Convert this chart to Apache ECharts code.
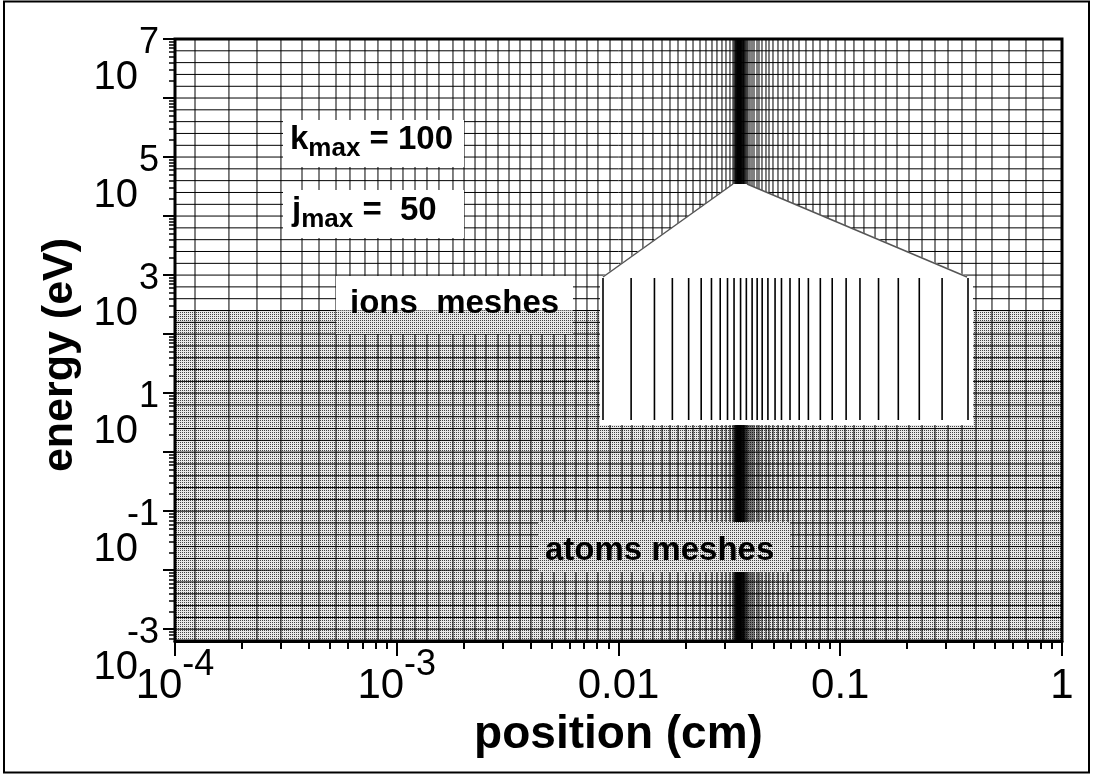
<!DOCTYPE html>
<html>
<head>
<meta charset="utf-8">
<script src="https://cdn.jsdelivr.net/npm/echarts@6/dist/echarts.min.js"></script>
<style>
  html, body { margin: 0; padding: 0; background: #fff; }
  #chart { width: 1093px; height: 776px; }
</style>
</head>
<body>
<div id="chart"></div>
<script>
// ---- mesh data ---------------------------------------------------------
// Ion-mesh cell boundaries along x (cm), outside the refined zone
const ionMeshX = [
  1.231e-4, 1.751e-4, 2.343e-4, 3.005e-4, 3.739e-4, 4.461e-4, 5.322e-4, 6.153e-4, 7.190e-4, 8.228e-4, 9.421e-4,
  1.067e-3, 1.209e-3, 1.369e-3, 1.550e-3, 1.793e-3, 2.011e-3, 2.254e-3, 2.526e-3, 2.862e-3, 3.208e-3,
  3.595e-3, 4.030e-3, 4.518e-3, 5.118e-3, 5.738e-3, 6.431e-3, 7.210e-3, 8.080e-3, 9.157e-3,
  1.037e-2, 1.150e-2, 1.289e-2, 1.430e-2, 1.571e-2, 1.707e-2, 1.855e-2, 2.016e-2, 2.168e-2, 2.331e-2,
  2.480e-2, 2.640e-2, 2.780e-2, 2.928e-2, 3.053e-2, 3.182e-2,
  3.837e-2, 3.917e-2, 4.000e-2, 4.084e-2, 4.213e-2, 4.301e-2, 4.437e-2, 4.625e-2, 4.772e-2, 4.974e-2,
  5.239e-2, 5.518e-2, 5.812e-2, 6.122e-2, 6.515e-2, 7.006e-2, 7.535e-2, 8.104e-2, 8.809e-2, 9.568e-2,
  0.1051, 0.1153, 0.1279, 0.1435, 0.1608, 0.1803, 0.2042, 0.2337, 0.2675, 0.3062, 0.3540, 0.4094,
  0.4833, 0.5768, 0.6881, 0.8211
];

// Refined cells around the sheath (also drawn magnified in the inset)
const refinedMeshX = [
  0.03283, 0.03320, 0.03351, 0.03375, 0.03397, 0.03414, 0.03428, 0.03440, 0.03450, 0.03459,
  0.03468, 0.03476, 0.03484, 0.03491, 0.03498, 0.03506, 0.03516, 0.03525, 0.03537, 0.03550,
  0.03563, 0.03580, 0.03597, 0.03617, 0.03637, 0.03664, 0.03693, 0.03724, 0.03758, 0.03797
];

// Energy mesh (eV), five cells per decade
const energyMesh = [
  1e7, 6.31e6, 3.98e6, 2.51e6, 1.58e6,
  1e6, 6.31e5, 3.98e5, 2.51e5, 1.58e5,
  1e5, 6.31e4, 3.98e4, 2.51e4, 1.58e4,
  1e4, 6310, 3980, 2510, 1580,
  1000, 631, 398, 251, 158,
  100, 63.1, 39.8, 25.1, 15.8,
  10, 6.31, 3.98, 2.51, 1.58,
  1, 0.631, 0.398, 0.251, 0.158,
  0.1, 0.0631, 0.0398, 0.0251, 0.0158,
  0.01, 6.31e-3, 3.98e-3, 2.51e-3, 1.58e-3,
  1e-3, 6.31e-4
];

// Energy range covered by the (much finer) atoms mesh, eV
const atomsEnergyRange = [6.31e-4, 251];

// ---- axes --------------------------------------------------------------
const xRange = [1e-4, 1];
const yRange = [6.31e-4, 1e7];
const xMajorTicks = [1e-4, 1e-3, 1e-2, 1e-1, 1];
const xTickLabels = [['10', '-4'], ['10', '-3'], ['0.01'], ['0.1'], ['1']];
const yMajorTicks = [1e-3, 1e-2, 1e-1, 1, 10, 100, 1e3, 1e4, 1e5, 1e6, 1e7];
const yLabelValues = [1e-3, 1e-1, 10, 1e3, 1e5, 1e7];
const yLabelExps = ['-3', '-1', '1', '3', '5', '7'];

// log-decade minor ticks (2..9 x 10^n) inside the energy range
const yMinorTicks = [];
for (let p = -4; p < 7; p++) {
  for (let m = 2; m <= 9; m++) {
    const v = m * Math.pow(10, p);
    if (v > yRange[0] && v < yRange[1]) yMinorTicks.push(v);
  }
}

const FONT = "'Liberation Sans', Arial, Helvetica, sans-serif";

function findIndex(list, v) {
  for (let i = 0; i < list.length; i++) {
    if (Math.abs(Math.log10(list[i]) - Math.log10(v)) < 1e-6) return i;
  }
  return -1;
}

// dithered grey used for the atoms-mesh area
function ditherPattern() {
  const c = document.createElement('canvas');
  c.width = 2; c.height = 2;
  const g = c.getContext('2d');
  g.fillStyle = '#e8e8e8';
  g.fillRect(0, 0, 2, 2);
  g.fillStyle = '#444';
  g.fillRect(0, 0, 1, 1);
  return c;
}
const grey = { image: ditherPattern(), repeat: 'repeat' };

// one full-height line per x value
function verticalMesh(params, api) {
  const cs = params.coordSys;
  const x = api.coord([api.value(0), yRange[1]])[0];
  return { type: 'line', shape: { x1: x, y1: cs.y, x2: x, y2: cs.y + cs.height },
           style: { stroke: '#000', lineWidth: 1 } };
}
// one full-width line per energy value
function horizontalMesh(params, api) {
  const cs = params.coordSys;
  const y = api.coord([xRange[0], api.value(1)])[1];
  return { type: 'line', shape: { x1: cs.x, y1: y, x2: cs.x + cs.width, y2: y },
           style: { stroke: '#000', lineWidth: 1 } };
}
function insetMesh(params, api) {
  const cs = params.coordSys;
  const x = api.coord([api.value(0), 0.5])[0];
  return { type: 'line', shape: { x1: x, y1: cs.y, x2: x, y2: cs.y + cs.height },
           style: { stroke: '#000', lineWidth: 1.6 } };
}

const chart = echarts.init(document.getElementById('chart'), null, { renderer: 'canvas' });

const option = {
  animation: false,
  backgroundColor: '#fff',
  grid: [
    { left: 175, top: 39, right: 31, bottom: 135 },
    { left: 603, top: 278, width: 365, height: 142 }
  ],
  xAxis: [
    {
      type: 'log', logBase: 10, gridIndex: 0, min: xRange[0], max: xRange[1],
      name: 'position (cm)', nameLocation: 'middle', nameGap: 70,
      nameTextStyle: { fontFamily: FONT, fontSize: 46, fontWeight: 'bold', color: '#000' },
      axisLine: { show: true, lineStyle: { color: '#000', width: 3 } },
      axisTick: { show: true, inside: false, length: 15, customValues: xMajorTicks,
                  lineStyle: { color: '#000', width: 2 } },
      minorTick: { show: true, splitNumber: 9, length: 8, lineStyle: { color: '#000', width: 2 } },
      splitLine: { show: false },
      minorSplitLine: { show: false },
      axisLabel: {
        customValues: xMajorTicks, margin: 2, color: '#000',
        formatter: function (v) {
          const i = findIndex(xMajorTicks, v);
          if (i < 0) return '';
          const lab = xTickLabels[i];
          return lab.length === 2 ? '{b|' + lab[0] + '}{e|' + lab[1] + '}' : '{n|' + lab[0] + '}';
        },
        rich: {
          b: { fontFamily: FONT, fontSize: 42, color: '#000', padding: [22, 0, 0, 0], verticalAlign: 'bottom' },
          n: { fontFamily: FONT, fontSize: 42, color: '#000', padding: [22, 0, 0, 0], verticalAlign: 'bottom' },
          e: { fontFamily: FONT, fontSize: 36, color: '#000', padding: [4, 0, 0, 0], verticalAlign: 'top' }
        }
      }
    },
    {
      type: 'log', logBase: 10, gridIndex: 1,
      min: refinedMeshX[0], max: refinedMeshX[refinedMeshX.length - 1], show: false
    }
  ],
  yAxis: [
    {
      type: 'log', logBase: 10, gridIndex: 0, min: yRange[0], max: yRange[1], position: 'left',
      name: 'energy (eV)', nameLocation: 'middle', nameGap: 93, nameRotate: 90,
      nameTextStyle: { fontFamily: FONT, fontSize: 43, fontWeight: 'bold', color: '#000',
                       padding: [0, 30, 0, 0] },
      axisLine: { show: true, lineStyle: { color: '#000', width: 2 } },
      axisTick: { show: true, inside: false, length: 12, customValues: yMajorTicks,
                  lineStyle: { color: '#000', width: 2 } },
      minorTick: { show: false },
      splitLine: { show: false },
      minorSplitLine: { show: false },
      axisLabel: {
        customValues: yLabelValues, margin: 16, color: '#000', align: 'right',
        formatter: function (v) {
          const i = findIndex(yLabelValues, v);
          if (i < 0) return '';
          return '{e|' + yLabelExps[i] + '}\n{b|10}';
        },
        rich: {
          e: { fontFamily: FONT, fontSize: 36, color: '#000', padding: [42, 0, 0, 0], align: 'right' },
          b: { fontFamily: FONT, fontSize: 40, color: '#000', lineHeight: 34, padding: [0, 21, 0, 0], align: 'right' }
        }
      }
    },
    { type: 'value', gridIndex: 1, min: 0, max: 1, show: false },
    {
      // minor ticks of the energy axis
      type: 'log', logBase: 10, gridIndex: 0, min: yRange[0], max: yRange[1], position: 'left',
      axisLine: { show: false },
      axisTick: { show: true, inside: false, length: 6, customValues: yMinorTicks,
                  lineStyle: { color: '#000', width: 1.5 } },
      axisLabel: { show: false },
      splitLine: { show: false }
    }
  ],
  series: [
    {
      name: 'atoms mesh', type: 'line', xAxisIndex: 0, yAxisIndex: 0, data: [], silent: true, z: 1,
      markArea: {
        silent: true, z: 1,
        itemStyle: { color: grey, opacity: 1, borderWidth: 0 },
        data: [[{ yAxis: atomsEnergyRange[0] }, { yAxis: atomsEnergyRange[1] }]]
      }
    },
    {
      name: 'ion mesh (position)', type: 'custom', xAxisIndex: 0, yAxisIndex: 0, silent: true, z: 5,
      clip: true, renderItem: verticalMesh,
      data: ionMeshX.concat(refinedMeshX).map(function (v) { return [v, yRange[1]]; })
    },
    {
      name: 'ion mesh (energy)', type: 'custom', xAxisIndex: 0, yAxisIndex: 0, silent: true, z: 5,
      clip: true, renderItem: horizontalMesh,
      data: energyMesh.map(function (v) { return [xRange[0], v]; })
    },
    {
      name: 'refined mesh (magnified)', type: 'custom', xAxisIndex: 1, yAxisIndex: 1, silent: true, z: 60,
      renderItem: insetMesh,
      data: refinedMeshX.map(function (v) { return [v, 0.5]; })
    }
  ]
};

chart.setOption(option);

// ---- annotations -------------------------------------------------------
const yAtomsTop = chart.convertToPixel({ yAxisIndex: 0 }, atomsEnergyRange[1]);
const bandL = chart.convertToPixel({ xAxisIndex: 0 }, refinedMeshX[0]);
const bandR = chart.convertToPixel({ xAxisIndex: 0 }, refinedMeshX[refinedMeshX.length - 1]);
const apexY = 184;

const labelRich = {
  v: { fontFamily: FONT, fontSize: 33, fontWeight: 'bold', color: '#000' },
  s: { fontFamily: FONT, fontSize: 26, fontWeight: 'bold', color: '#000', padding: [18, 0, 0, 0] }
};

chart.setOption({
  graphic: [
    // callout of the refined zone
    { type: 'polygon', z: 50, silent: true,
      shape: { points: [[bandL, apexY], [bandR, apexY], [967, 276], [973, 276], [973, 425], [600, 425], [600, 276], [603, 276]] },
      style: { fill: '#fff', stroke: null } },
    { type: 'polyline', z: 55, silent: true,
      shape: { points: [[bandL, apexY], [603, 277]] }, style: { stroke: '#555', lineWidth: 1.5, fill: null } },
    { type: 'polyline', z: 55, silent: true,
      shape: { points: [[bandR, apexY], [967, 277]] }, style: { stroke: '#555', lineWidth: 1.5, fill: null } },

    // mesh size labels
    { type: 'rect', z: 50, silent: true, shape: { x: 283, y: 120, width: 181, height: 47 }, style: { fill: '#fff' } },
    { type: 'text', z: 52, silent: true, x: 290, y: 140,
      style: { text: '{v|k}{s|max}{v| = 100}', rich: labelRich, align: 'left', verticalAlign: 'middle' } },
    { type: 'rect', z: 50, silent: true, shape: { x: 283, y: 190, width: 181, height: 48 }, style: { fill: '#fff' } },
    { type: 'text', z: 52, silent: true, x: 292, y: 211,
      style: { text: '{v|j}{s|max}{v| =  50}', rich: labelRich, align: 'left', verticalAlign: 'middle' } },

    // ions meshes label (straddles the top of the atoms area)
    { type: 'rect', z: 50, silent: true, shape: { x: 336, y: 276, width: 237, height: yAtomsTop - 276 }, style: { fill: '#fff' } },
    { type: 'rect', z: 50, silent: true, shape: { x: 336, y: yAtomsTop, width: 237, height: 334 - yAtomsTop }, style: { fill: grey } },
    { type: 'text', z: 52, silent: true, x: 350, y: 304,
      style: { text: 'ions  meshes', fontFamily: FONT, fontSize: 33, fontWeight: 'bold', fill: '#000',
               align: 'left', verticalAlign: 'middle' } },

    // atoms meshes label
    { type: 'rect', z: 50, silent: true, shape: { x: 538, y: 522, width: 252, height: 50 }, style: { fill: grey } },
    { type: 'text', z: 52, silent: true, x: 545, y: 551,
      style: { text: 'atoms meshes', fontFamily: FONT, fontSize: 33, fontWeight: 'bold', fill: '#000',
               align: 'left', verticalAlign: 'middle' } },

    // plot frame and outer border
    { type: 'rect', z: 80, silent: true, shape: { x: 175, y: 39, width: 887, height: 602 },
      style: { fill: null, stroke: '#000', lineWidth: 3 } },
    { type: 'rect', z: 80, silent: true, shape: { x: 4, y: 1.5, width: 1085, height: 771 },
      style: { fill: null, stroke: '#000', lineWidth: 2 } }
  ]
});
</script>
</body>
</html>
